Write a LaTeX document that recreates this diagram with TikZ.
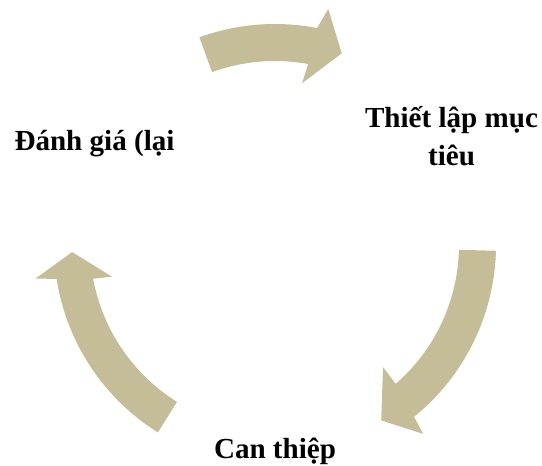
\documentclass[tikz,border=0pt]{standalone}
\usepackage{fontspec}
\setmainfont{Liberation Serif}
\definecolor{tan}{HTML}{C4BD97}
\begin{document}
\begin{tikzpicture}[x=0.75pt,y=0.75pt,
  arrowshape/.style={fill=tan, draw=none},
  lbl/.style={font=\bfseries\fontsize{21.8}{28.5}\selectfont, inner sep=0pt, align=center}]
\useasboundingbox (0,0) rectangle (542,465);
\coordinate (c) at (275,220);
% top arrow
\path[arrowshape] ([shift={(110:221)}]c) arc[start angle=110,end angle=79,radius=221]
  -- ([shift={(77.3:242)}]c) -- ([shift={(70.8:203)}]c) -- ([shift={(80.5:164)}]c)
  -- ([shift={(79.6:184)}]c) arc[start angle=79.6,end angle=110,radius=184] -- cycle;
% right arrow
\path[arrowshape] ([shift={(-1.5:221)}]c) arc[start angle=-1.5,end angle=-51,radius=221]
  -- ([shift={(-51.9:240)}]c) -- ([shift={(-58.8:205)}]c) -- ([shift={(-48.5:163)}]c)
  -- ([shift={(-49:184)}]c) arc[start angle=-49,end angle=-1.5,radius=184] -- cycle;
% left arrow
\path[arrowshape] ([shift={(238:221)}]c) arc[start angle=238,end angle=188.8,radius=221]
  -- ([shift={(188:242)}]c) -- ([shift={(182:203)}]c) -- ([shift={(191:166)}]c)
  -- ([shift={(190.5:185)}]c) arc[start angle=190.5,end angle=238,radius=185] -- cycle;
\node[lbl, anchor=base] (eval) at (94.5,315) {Đánh giá (lại};
\node[lbl, anchor=base] (goal) at (451.5,300) {Thiết lập mục\\tiêu};
\node[lbl, anchor=base] (interv) at (275,7) {Can thiệp};
\end{tikzpicture}
\end{document}
